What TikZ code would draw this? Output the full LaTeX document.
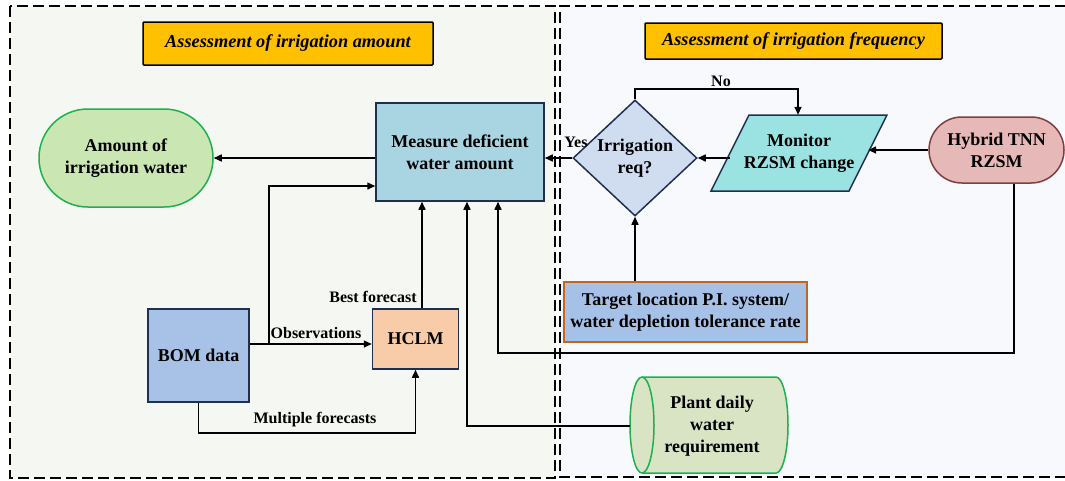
\documentclass[tikz,border=0pt]{standalone}
\usepackage{fontspec}
\setmainfont{Liberation Serif}
\usetikzlibrary{arrows.meta,shapes.geometric}
\definecolor{leftbg}{HTML}{F5F8F2}
\definecolor{rightbg}{HTML}{F8F9FC}
\definecolor{titleY}{HTML}{FFC000}
\definecolor{amountC}{HTML}{C9E6B3}
\definecolor{greenB}{HTML}{1DB04E}
\definecolor{measureC}{HTML}{A8D5E1}
\definecolor{darkB}{HTML}{1F2F4F}
\definecolor{diaC}{HTML}{D0DCF0}
\definecolor{monC}{HTML}{9BE3E3}
\definecolor{hybC}{HTML}{E6B8B7}
\definecolor{hybB}{HTML}{7F3F3F}
\definecolor{tgtC}{HTML}{A6C1E8}
\definecolor{tgtB}{HTML}{C0661E}
\definecolor{plantC}{HTML}{D9E4C4}
\definecolor{bomC}{HTML}{A7C2E6}
\definecolor{hclmC}{HTML}{F8CCA8}
\tikzset{
  lbl/.style={font=\fontsize{18}{22}\selectfont\bfseries, align=center, inner sep=0pt},
  small/.style={font=\fontsize{16}{19}\selectfont\bfseries, inner sep=0pt},
  arr/.style={draw=black, line width=1.5pt, -{Triangle[length=8pt,width=7pt]}},
  proc/.style={lbl, draw=darkB, line width=1.5pt, rectangle},
  titlebox/.style={draw=black, line width=1.5pt, fill=titleY, rounded corners=1pt,
    font=\fontsize{18.3}{22}\selectfont\bfseries\itshape, inner sep=0pt},
  region/.style={draw=black, line width=1.8pt, dash pattern=on 11pt off 5pt},
}
\begin{document}
\begin{tikzpicture}[x=1pt,y=-1pt]
\useasboundingbox (0,0) rectangle (1065,480);
% regions
\fill[leftbg] (10,6) rectangle (555,478);
\fill[rightbg] (560,6) rectangle (1065,477);
\draw[region] (10,6) rectangle (555,478);
\draw[region] (1066,6) -- (560,6) -- (560,477) -- (1066,477);
% titles
\node[titlebox, minimum width=290pt, minimum height=43pt] (tL) at (288,43.5) {Assessment of irrigation amount};
\node[titlebox, minimum width=297pt, minimum height=36pt] (tR) at (793.5,41) {Assessment of irrigation frequency};
% nodes
\node[proc, fill=amountC, draw=greenB, rounded corners=48.9pt, minimum width=174pt, minimum height=98pt] (amount) at (126,158) {Amount of\\irrigation water};
\node[proc, fill=measureC, minimum width=168pt, minimum height=98pt] (measure) at (460,152) {Measure deficient\\water amount};
\node[lbl, diamond, draw=darkB, fill=diaC, line width=1.5pt, minimum width=124pt, minimum height=116pt, aspect=1] (dia) at (635,158) {Irrigation\\req?};
\filldraw[fill=monC, draw=darkB, line width=1.5pt] (711,191) -- (849,191) -- (887,115) -- (749,115) -- cycle;
\node[lbl, minimum width=138pt, minimum height=76pt] (monitor) at (799,153) {Monitor\\RZSM change};
\node[proc, fill=hybC, draw=hybB, rounded corners=32.9pt, minimum width=135pt, minimum height=66pt] (hybrid) at (996.5,150) {Hybrid TNN\\RZSM};
\node[proc, fill=tgtC, draw=tgtB, minimum width=243pt, minimum height=60pt] (target) at (685.5,312) {Target location P.I. system/\\water depletion tolerance rate};
\node[proc, fill=bomC, minimum width=101pt, minimum height=93pt] (bom) at (198.5,355.5) {BOM data};
\node[proc, fill=hclmC, minimum width=86pt, minimum height=60pt] (hclm) at (415.5,339) {HCLM};
% plant cylinder
\filldraw[fill=plantC, draw=greenB, line width=1.5pt] (642,377) -- (776,377)
  arc[start angle=-90, end angle=90, x radius=12, y radius=48] -- (642,473)
  arc[start angle=90, end angle=270, x radius=12, y radius=48] -- cycle;
\draw[draw=greenB, line width=1.5pt] (642,377) arc[start angle=-90, end angle=90, x radius=12, y radius=48];
\node[lbl, minimum width=164pt, minimum height=96pt] (plant) at (712,426) {Plant daily\\water\\requirement};
% connectors
\coordinate (obsJ) at (269,344);
\draw[arr] (measure.west |- amount.east) -- (amount.east);
\draw[arr] (bom.east |- obsJ) -- (hclm.west |- obsJ);
\draw[arr] (obsJ) -- (269,186) -- (measure.west |- 0,186);
\draw[arr] (hclm.north -| 422,0) -- (measure.south -| 422,0);
\draw[arr] (bom.south) -- ++(0,30) -| (hclm.south);
\draw[arr] (plant.west) -| (measure.south -| 467,0);
\draw[arr] (hybrid.south -| 1014,0) -- (1014,353) -| (measure.south -| 498,0);
\draw[arr] (hybrid.west) -- (hybrid.west -| monitor.east);
\draw[arr] (monitor.west |- dia.east) -- (dia.east);
\draw[arr] (dia.west) -- (measure.east |- dia.west);
\draw[arr] (dia.north) -- (dia.north |- 0,89) -| (monitor.north -| 798,0);
\draw[arr] (target.north -| dia.south) -- (dia.south);
% labels
\node[small] (obsL) at (316,333) {Observations};
\node[small] (bestL) at (373,297) {Best forecast};
\node[small] (multL) at (315,420) {Multiple forecasts};
\node[small] (yesL) at (576,142) {Yes};
\node[small] (noL) at (721,81) {No};
\end{tikzpicture}
\end{document}
